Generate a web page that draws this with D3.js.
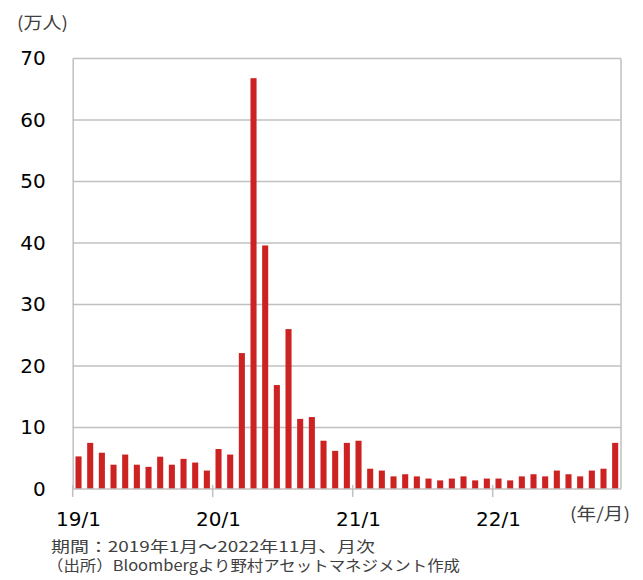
<!DOCTYPE html>
<html><head><meta charset="utf-8">
<script src="https://cdn.jsdelivr.net/npm/d3@7"></script>
<style>body{margin:0;background:#fff}svg{display:block}</style>
</head><body>
<svg id="c" width="643" height="580"></svg>
<script>
const months = ["2019-01","2019-02","2019-03","2019-04","2019-05","2019-06","2019-07","2019-08","2019-09","2019-10","2019-11","2019-12",
"2020-01","2020-02","2020-03","2020-04","2020-05","2020-06","2020-07","2020-08","2020-09","2020-10","2020-11","2020-12",
"2021-01","2021-02","2021-03","2021-04","2021-05","2021-06","2021-07","2021-08","2021-09","2021-10","2021-11","2021-12",
"2022-01","2022-02","2022-03","2022-04","2022-05","2022-06","2022-07","2022-08","2022-09","2022-10","2022-11"];
const values = [5.3,7.5,5.9,3.95,5.6,3.95,3.6,5.25,3.95,4.9,4.3,3.0,
6.5,5.6,22.1,66.8,39.6,16.9,26.0,11.4,11.7,7.85,6.2,7.5,
7.85,3.3,3.0,2.05,2.4,2.05,1.7,1.4,1.7,2.05,1.4,1.7,
1.7,1.4,2.05,2.4,2.05,3.0,2.4,2.05,3.0,3.3,7.5];
const yTicks = [0,10,20,30,40,50,60,70];
const xTickMonths = ["2019-01","2020-01","2021-01","2022-01"];
const xTickLabels = ["19/1","20/1","21/1","22/1"];
const unitY = "(万人)";
const unitX = "(年/月)";
const note1 = "期間：2019年1月～2022年11月、月次";
const note2 = "（出所）Bloombergより野村アセットマネジメント作成";

const svg = d3.select("#c");
const L = 72.7, R = 621, T = 58.5, B = 489;
const x = d3.scaleBand().domain(months).range([L, R]).paddingInner(0.48).paddingOuter(0.24);
const y = d3.scaleLinear().domain([0, 70]).range([B, T]);
const grid = "#c0c0c0";
const latin = "'DejaVu Sans', 'Noto Sans CJK JP', sans-serif";
const cjk = "'Noto Sans CJK JP', 'DejaVu Sans', sans-serif";

// gridlines
svg.append("g").selectAll("line").data(yTicks.filter(d => d > 0)).join("line")
  .attr("x1", L).attr("x2", R).attr("y1", d => y(d)).attr("y2", d => y(d))
  .attr("stroke", grid).attr("stroke-width", 1.5);
// right border
svg.append("line").attr("x1", R).attr("x2", R).attr("y1", T).attr("y2", B)
  .attr("stroke", grid).attr("stroke-width", 1.5);

// bars
svg.append("g").selectAll("rect").data(values).join("rect")
  .attr("x", (d, i) => x(months[i]))
  .attr("width", x.bandwidth())
  .attr("y", d => y(d))
  .attr("height", d => B - y(d))
  .attr("fill", "#cc2222");

// y axis
const ya = svg.append("g").attr("transform", `translate(${L},0)`)
  .call(d3.axisLeft(y).tickValues(yTicks).tickSize(0).tickPadding(27).tickFormat(d3.format("d")));
ya.select(".domain").attr("stroke", grid).attr("stroke-width", 1.5);
ya.selectAll("text").attr("font-family", latin).attr("font-size", 20).attr("fill", "#000");

// x axis line
svg.append("line").attr("x1", L).attr("x2", R).attr("y1", B).attr("y2", B)
  .attr("stroke", grid).attr("stroke-width", 1.5);
const step = x.step();
const bandLeft = m => x(m) - x.paddingInner() * step / 2;
svg.append("g").selectAll("line").data(xTickMonths).join("line")
  .attr("x1", m => bandLeft(m)).attr("x2", m => bandLeft(m))
  .attr("y1", B - 4).attr("y2", B + 8)
  .attr("stroke", grid).attr("stroke-width", 1.5);
svg.append("g").selectAll("text").data(xTickMonths).join("text")
  .attr("x", m => x(m) + x.bandwidth() / 2)
  .attr("y", 526)
  .attr("text-anchor", "middle")
  .attr("font-family", latin).attr("font-size", 20).attr("fill", "#000")
  .text((m, i) => xTickLabels[i]);

// unit labels
svg.append("text").attr("x", 17).attr("y", 29)
  .attr("font-family", cjk).attr("font-size", 17).attr("fill", "#404040")
  .attr("textLength", 51).attr("lengthAdjust", "spacingAndGlyphs").text(unitY);
svg.append("text").attr("x", 570).attr("y", 520)
  .attr("font-family", cjk).attr("font-size", 17).attr("fill", "#404040")
  .attr("textLength", 60).attr("lengthAdjust", "spacingAndGlyphs").text(unitX);

// notes
svg.append("text").attr("x", 51).attr("y", 552)
  .attr("font-family", cjk).attr("font-size", 15).attr("fill", "#404040")
  .attr("textLength", 324).attr("lengthAdjust", "spacingAndGlyphs").text(note1);
svg.append("text").attr("x", 47).attr("y", 571)
  .attr("font-family", cjk).attr("font-size", 15).attr("fill", "#404040")
  .attr("textLength", 413).attr("lengthAdjust", "spacingAndGlyphs").text(note2);
</script>
</body></html>
